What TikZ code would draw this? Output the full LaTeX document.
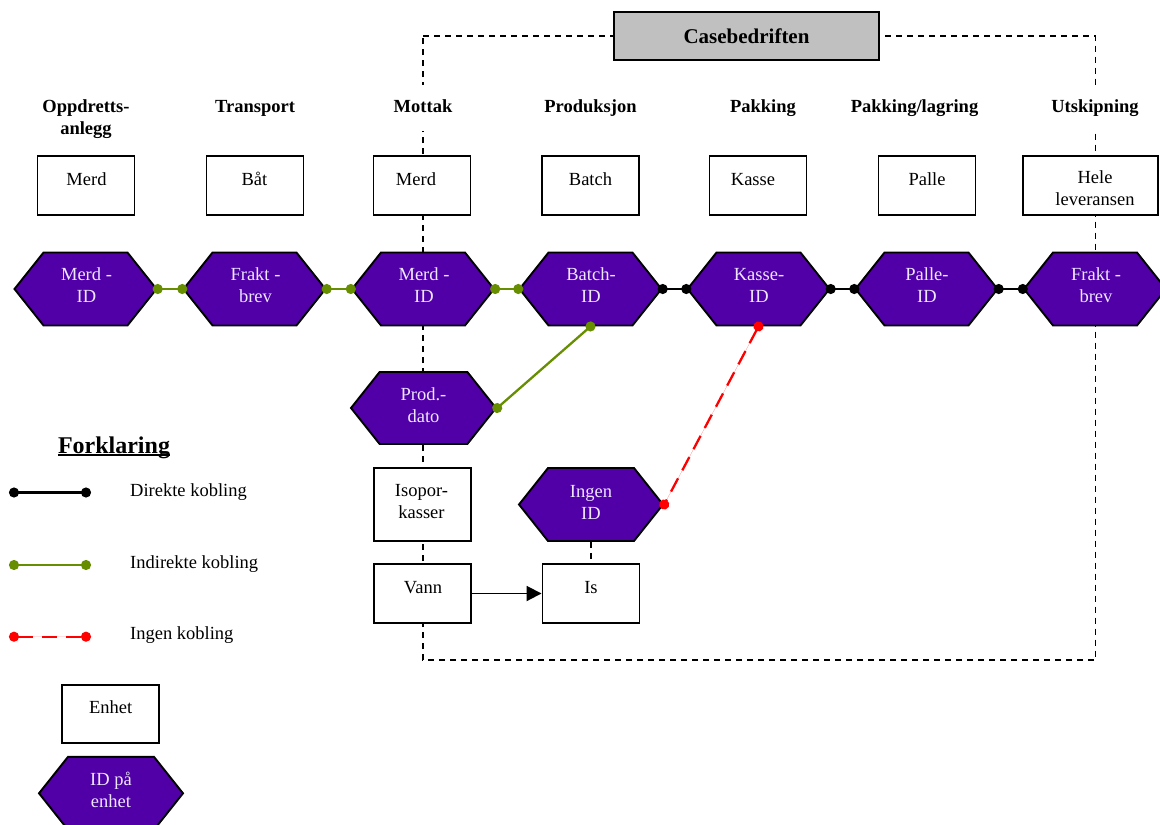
\documentclass[tikz,border=0pt]{standalone}
\usepackage{fontspec}
\setmainfont{Liberation Serif}
\usetikzlibrary{shapes.symbols,arrows.meta}

\definecolor{idfill}{RGB}{80,0,166}
\definecolor{idtext}{RGB}{238,230,255}
\definecolor{linkgreen}{RGB}{102,142,0}
\definecolor{headgray}{RGB}{192,192,192}

\tikzset{
  every node/.style={font=\fontsize{18.5}{22}\selectfont},
  unitbox/.style={draw, fill=white, line width=1.9pt, minimum width=97pt,
    minimum height=59pt, inner sep=0pt},
  idhex/.style={signal, signal to=west and east, signal pointer angle=103,
    draw, fill=idfill, line width=1.9pt, minimum width=142pt,
    minimum height=73pt, inner sep=0pt},
  idlabel/.style={text=idtext, align=center, inner sep=0pt},
  unitlabel/.style={align=center, inner sep=0pt},
  oneline/.style={text height=13pt, text depth=4pt},
  stage/.style={font=\fontsize{18.5}{22}\selectfont\bfseries, fill=white,
    inner xsep=3pt, inner ysep=0pt, minimum height=46pt},
  frame/.style={dash pattern=on 6pt off 5pt, line width=1.7pt},
  link/.style={line width=2.3pt, shorten <=-5pt, shorten >=-5pt,
    {Circle[length=10pt]}-{Circle[length=10pt]}},
  direct/.style={link, draw=black, fill=black},
  indirect/.style={link, draw=linkgreen, fill=linkgreen},
  nolink/.style={link, draw=red, fill=red, dash pattern=on 15pt off 9pt},
}

\begin{document}
\begin{tikzpicture}[x=1pt, y=-1pt]
\useasboundingbox (0,0) rectangle (1160,825);
\clip (0,0) rectangle (1160,825);

% company boundary
\coordinate (fr1) at (423,36);
\coordinate (fr2) at (1095.5,36);
\coordinate (fr3) at (1095.5,660);
\coordinate (fr4) at (423,660);
\draw[frame] (fr1) -- (fr2) -- (fr3) -- (fr4) -- cycle;

\node[draw, fill=headgray, line width=1.9pt, minimum width=265pt,
  minimum height=48pt, inner sep=0pt,
  font=\fontsize{21}{25}\selectfont\bfseries] (cb) at (746.5,36) {Casebedriften};

% process stages
\node[stage, align=center] (s1) at (86,119) {Oppdretts-\\anlegg};
\node[stage, oneline] (s2) at (255,107.7) {Transport};
\node[stage, oneline] (s3) at (423,107.7) {Mottak};
\node[stage, oneline] (s4) at (590.5,107.7) {Produksjon};
\node[stage, oneline] (s5) at (763,107.7) {Pakking};
\node[stage, oneline] (s6) at (914.5,107.7) {Pakking/lagring};
\node[stage, oneline] (s7) at (1095,107.7) {Utskipning};

% units
\node[unitbox] (u1) at (86,185.5) {};
\node[unitbox] (u2) at (255,185.5) {};
\node[unitbox] (u3) at (422,185.5) {};
\node[unitbox] (u4) at (590.5,185.5) {};
\node[unitbox] (u5) at (758,185.5) {};
\node[unitbox] (u6) at (927,185.5) {};
\node[unitbox, minimum width=135pt] (u7) at (1090.5,185.5) {};
\node[unitlabel, oneline] (u1t) at (86.5,180.7) {Merd};
\node[unitlabel, oneline] (u2t) at (254.5,180.7) {Båt};
\node[unitlabel, oneline] (u3t) at (416,180.7) {Merd};
\node[unitlabel, oneline] (u4t) at (590.5,180.7) {Batch};
\node[unitlabel, oneline] (u5t) at (753,180.7) {Kasse};
\node[unitlabel, oneline] (u6t) at (927,180.7) {Palle};
\node[unitlabel] (u7t) at (1095,188.5) {Hele\\leveransen};

% identifiers
\node[idhex] (h1) at (85.5,289) {};
\node[idhex] (h2) at (254.5,289) {};
\node[idhex] (h3) at (423,289) {};
\node[idhex] (h4) at (590.5,289) {};
\node[idhex] (h5) at (758.5,289) {};
\node[idhex] (h6) at (926.5,289) {};
\node[idhex] (h7) at (1095,289) {};
\node[idlabel] (h1t) at (86.5,285) {Merd -\\ID};
\node[idlabel] (h2t) at (255.5,285) {Frakt -\\brev};
\node[idlabel] (h3t) at (424,285) {Merd -\\ID};
\node[idlabel] (h4t) at (591,285) {Batch-\\ID};
\node[idlabel] (h5t) at (759,285) {Kasse-\\ID};
\node[idlabel] (h6t) at (927,285) {Palle-\\ID};
\node[idlabel] (h7t) at (1096,285) {Frakt -\\brev};

% reception and production details
\node[idhex, minimum width=145pt, minimum height=72pt] (pd) at (423.5,408) {};
\node[idlabel] (pdt) at (423.5,405.5) {Prod.-\\dato};
\node[unitbox, minimum height=73pt] (iso) at (422.5,504.5) {};
\node[unitlabel] (isot) at (421.5,502) {Isopor-\\kasser};
\node[unitbox] (va) at (422.5,593.5) {};
\node[unitlabel, oneline] (vat) at (423,588.7) {Vann};
\node[idhex, minimum width=144pt] (ing) at (591,504.5) {};
\node[idlabel] (ingt) at (591,502) {Ingen\\ID};
\node[unitbox] (is) at (591,593.5) {};
\node[unitlabel, oneline] (ist) at (591,588.7) {Is};

% connections
\draw[indirect] (h1.east) -- (h2.west);
\draw[indirect] (h2.east) -- (h3.west);
\draw[indirect] (h3.east) -- (h4.west);
\draw[direct] (h4.east) -- (h5.west);
\draw[direct] (h5.east) -- (h6.west);
\draw[direct] (h6.east) -- (h7.west);
\draw[indirect] (h4.south) -- (pd.east);
\draw[nolink] (h5.south) -- (ing.east);
\draw[frame] (ing.south) -- (is.north);
\draw[line width=1.9pt, -{Triangle[length=15pt, width=15pt]}] (va.east) -- (is.west);

% legend
\node[font=\fontsize{24}{28}\selectfont\bfseries, inner sep=0pt, anchor=base]
  (lg) at (114,453) {Forklaring};
\draw[line width=1.8pt] ([yshift=-2pt]lg.base west) -- ([yshift=-2pt]lg.base east);

\coordinate (l1a) at (14,492.5);
\coordinate (l1b) at (86,492.5);
\draw[direct] (l1a) -- (l1b);
\node[unitlabel, oneline, anchor=west] (l1t) at (130,491.7) {Direkte kobling};

\coordinate (l2a) at (14,565);
\coordinate (l2b) at (86,565);
\draw[indirect] (l2a) -- (l2b);
\node[unitlabel, oneline, anchor=west] (l2t) at (130,563.7) {Indirekte kobling};

\coordinate (l3a) at (14,636.7);
\coordinate (l3b) at (86,636.7);
\draw[nolink] (l3a) -- (l3b);
\node[unitlabel, oneline, anchor=west] (l3t) at (130,635.4) {Ingen kobling};

\node[unitbox, minimum height=58pt] (le) at (110.5,714) {};
\node[unitlabel, oneline] (let) at (110.7,708.7) {Enhet};
\node[idhex, minimum width=144pt] (lh) at (111,793.3) {};
\node[idlabel] (lht) at (111,790) {ID på\\enhet};
\end{tikzpicture}
\end{document}
